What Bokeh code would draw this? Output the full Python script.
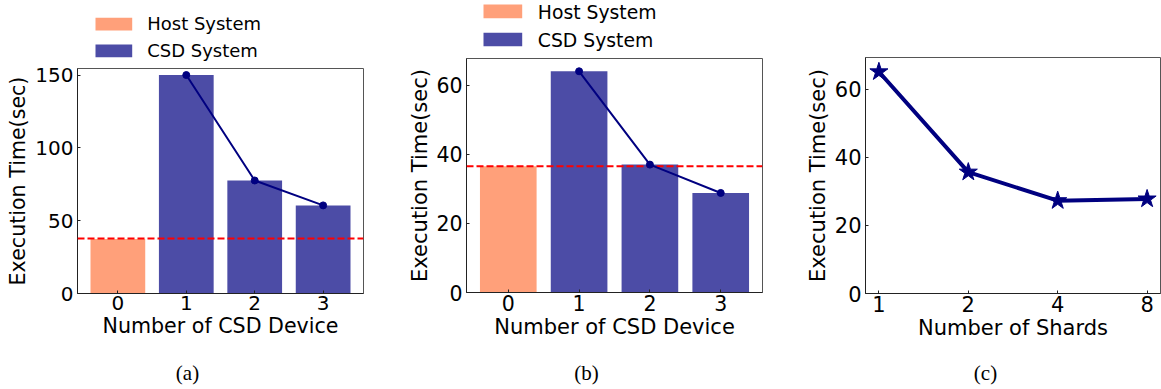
from bokeh.plotting import figure
from bokeh.models import Range1d, FixedTicker, Span, Label, BoxAnnotation
from bokeh.layouts import row, column
from bokeh.embed import file_html
from bokeh.resources import INLINE

# ---------------- data ----------------
devices = [0, 1, 2, 3]
device_labels = ["0", "1", "2", "3"]

a_host = [37.5]
a_csd = [150.0, 77.6, 60.5]
a_baseline = 37.7
a_yticks = [0, 50, 100, 150]

b_host = [36.5]
b_csd = [64.0, 37.0, 28.8]
b_baseline = 36.5
b_yticks = [0, 20, 40, 60]

shards = ["1", "2", "4", "8"]
c_time = [65.2, 35.7, 27.3, 27.8]
c_yticks = [0, 20, 40, 60]

legend_labels = ["Host System", "CSD System"]
x_label_ab = "Number of CSD Device"
x_label_c = "Number of Shards"
y_label = "Execution Time(sec)"
captions = ["(a)", "(b)", "(c)"]

HOST = "#FFA07A"
CSD = "#4C4CA6"
NAVY = "#000080"
FONT = "DejaVu Sans"
SERIF = "Liberation Serif"


def style(p, tick_fs, label_fs, ylab_standoff):
    for ax in (p.xaxis[0], p.yaxis[0]):
        ax.major_tick_in = 3
        ax.major_tick_out = 0
        ax.minor_tick_in = 0
        ax.minor_tick_out = 0
        ax.major_label_text_font = FONT
        ax.major_label_text_font_size = tick_fs
        ax.major_label_text_color = "black"
        ax.axis_label_text_font = FONT
        ax.axis_label_text_font_size = label_fs
        ax.axis_label_text_font_style = "normal"
        ax.axis_label_text_color = "black"
        ax.axis_line_color = "#222222"
        ax.major_tick_line_color = "#222222"
    p.xaxis.major_label_standoff = 2
    p.xaxis.axis_label_standoff = 1
    p.yaxis.major_label_standoff = 4
    p.yaxis.axis_label_standoff = ylab_standoff
    p.xgrid.visible = False
    p.ygrid.visible = False
    p.outline_line_color = "#555555"
    p.outline_line_width = 1
    p.background_fill_color = "white"
    p.border_fill_color = "white"


def strip(width, height, x0=None, x1=None):
    # frames of plots stacked in one column get aligned, so the x range
    # spans the aligned frame (pixel units, relative to the figure's left)
    x0 = 0 if x0 is None else x0
    x1 = width if x1 is None else x1
    f = figure(width=width, height=height, min_border=0, title=None,
               x_range=Range1d(x0, x1), y_range=Range1d(0, height),
               x_axis_location=None, y_axis_location=None,
               output_backend="svg", toolbar_location=None)
    f.outline_line_color = None
    f.xgrid.visible = False
    f.ygrid.visible = False
    return f


def legend_strip(width, height, fx0, fx1, gx0, gx1, boxes, tx, tys, fs):
    f = strip(width, height, fx0, fx1)
    for (b0, b1), color, ty, text in zip(boxes, [HOST, CSD], tys, legend_labels):
        f.add_layout(BoxAnnotation(left=gx0, right=gx1, bottom=b0, top=b1,
                                   fill_color=color, fill_alpha=1.0,
                                   line_color=None))
        f.add_layout(Label(x=tx, y=ty, text=text, text_align="left",
                           text_baseline="middle", text_font=FONT,
                           text_font_size=fs, text_color="black"))
    return f


def bar_panel(host, csd, baseline, yticks, ymax, w, h, bl, br, bt, bb,
              tick_fs, label_fs, ylab_standoff):
    p = figure(width=w, height=h, title=None,
               min_border_left=bl, min_border_right=br,
               min_border_top=bt, min_border_bottom=bb,
               x_range=Range1d(-0.59, 3.59), y_range=Range1d(0, ymax),
               output_backend="svg", toolbar_location=None,
               x_axis_label=x_label_ab, y_axis_label=y_label)
    p.vbar(x=devices[:1], top=host, width=0.8, fill_color=HOST, line_color=None)
    p.vbar(x=devices[1:], top=csd, width=0.8, fill_color=CSD, line_color=None)
    p.add_layout(Span(location=baseline, dimension="width", line_color="red",
                      line_dash="7 3", line_width=2))
    p.line(devices[1:], csd, line_color=NAVY, line_width=2, level="overlay")
    p.scatter(devices[1:], csd, size=7, fill_color=NAVY, line_color=NAVY, level="overlay")
    p.xaxis.ticker = FixedTicker(ticks=devices)
    p.xaxis.major_label_overrides = {d: s for d, s in zip(devices, device_labels)}
    p.yaxis.ticker = FixedTicker(ticks=yticks)
    style(p, tick_fs, label_fs, ylab_standoff)
    return p


# panel a : legend strip (y 0-63) + plot (63-358), x 0-395, frame x 77-363
la = legend_strip(395, 63, 77, 363, 95, 131.7, [(33, 45.7), (6.3, 19)],
                  146.7, [39.7, 13], "18px")
pa = bar_panel(a_host, a_csd, a_baseline, a_yticks, 154.5,
               395, 295, 77, 32, 5, 65, "20px", "20.6px", 2)

# panel b : legend strip (0-55) + plot (55-358), x 395-790, frame x 71-367
lb = legend_strip(395, 55, 71, 367, 88, 126.7, [(37.3, 51), (9.3, 22.7)],
                  142.3, [43.3, 15.5], "18.8px")
pb = bar_panel(b_host, b_csd, b_baseline, b_yticks, 67.7,
               395, 303, 71, 28, 3, 66, "20.5px", "21px", 1)

# panel c : x 790-1161
xs = list(range(len(shards)))
pc = figure(width=371, height=358, title=None,
            min_border_left=75, min_border_right=1,
            min_border_top=57, min_border_bottom=65,
            x_range=Range1d(-0.15, 3.15), y_range=Range1d(0, 69.4),
            output_backend="svg", toolbar_location=None,
            x_axis_label=x_label_c, y_axis_label=y_label)
pc.line(xs, c_time, line_color=NAVY, line_width=4)
pc.scatter(xs, c_time, marker="star", size=19, fill_color=NAVY, line_color=NAVY)
pc.xaxis.ticker = FixedTicker(ticks=xs)
pc.xaxis.major_label_overrides = {i: s for i, s in zip(xs, shards)}
pc.yaxis.ticker = FixedTicker(ticks=c_yticks)
style(pc, "21px", "21px", 2)

# caption strip (y 358-389)
cap = strip(1161, 31)
for text, cx in zip(captions, [187, 586, 985]):
    cap.add_layout(Label(x=cx, y=16.5, text=text, text_align="center",
                         text_baseline="middle", text_font=SERIF,
                         text_font_size="21px", text_color="black"))

layout = column(row(column(la, pa), column(lb, pb), pc), cap)
open("out.html", "w").write(file_html(layout, INLINE))
